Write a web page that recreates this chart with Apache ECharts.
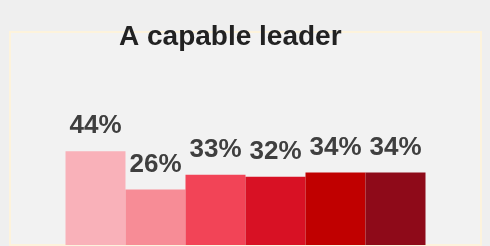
<!DOCTYPE html>
<html>
<head>
<meta charset="utf-8">
<script src="https://cdn.jsdelivr.net/npm/echarts@6/dist/echarts.min.js"></script>
<style>
  html, body { margin: 0; padding: 0; background: #efefef; }
  #chart { width: 490px; height: 246px; }
</style>
</head>
<body>
<div id="chart"></div>
<script>
// one category, six bars side by side
const category = ["A capable leader"];
const groups = ["G1", "G2", "G3", "G4", "G5", "G6"];
const values = [44, 26, 33, 32, 34, 34];
const colors = ["#f9b1b9", "#f78c96", "#f24457", "#d81124", "#c00000", "#8e0a19"];

const chart = echarts.init(document.getElementById("chart"));

const series = groups.map((name, i) => ({
  name: name,
  type: "bar",
  data: [values[i]],
  barWidth: 60,
  barGap: "0%",
  itemStyle: { color: colors[i] },
  label: {
    show: true,
    position: "top",
    distance: 12,
    formatter: "{c}%",
    fontFamily: "Liberation Sans",
    fontSize: 26,
    fontWeight: "bold",
    color: "#3f3f3f",
  },
}));

chart.setOption({
  animation: false,
  backgroundColor: "#efefef",
  title: {
    text: category[0],
    left: 114,
    top: 18,
    textStyle: {
      fontFamily: "Liberation Sans",
      fontSize: 28,
      fontWeight: "bold",
      color: "#222222",
    },
  },
  grid: {
    show: true,
    left: 10,
    right: 9,
    top: 32,
    bottom: 1,
    borderWidth: 2,
    borderColor: "#fdf3dc",
    backgroundColor: "#f2f2f2",
  },
  xAxis: {
    type: "category",
    data: category,
    show: false,
  },
  yAxis: {
    type: "value",
    min: 0,
    max: 100,
    show: false,
  },
  series: series,
});
</script>
</body>
</html>
